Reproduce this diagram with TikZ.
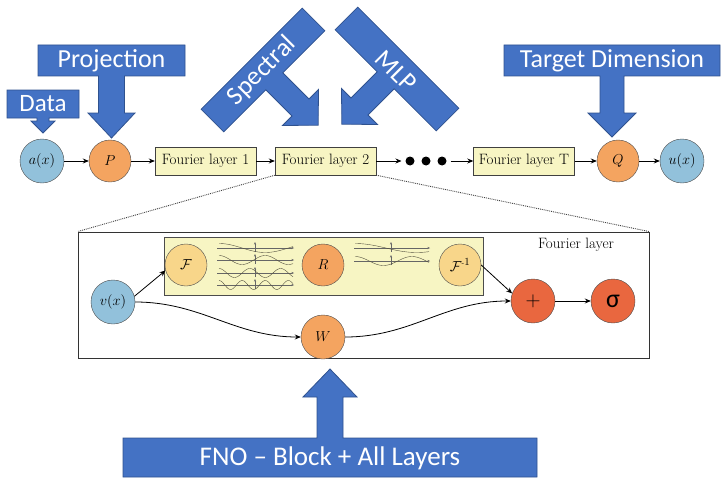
\documentclass[tikz,border=0pt]{standalone}
\usepackage{fontspec}
\newfontfamily\calibri{Carlito}
\usetikzlibrary{arrows.meta,positioning}
\definecolor{callblue}{HTML}{4472C4}
\definecolor{calledge}{HTML}{2F528F}
\definecolor{inblue}{HTML}{92C1DB}
\definecolor{oporange}{HTML}{F4A460}
\definecolor{fftyellow}{HTML}{F8D68A}
\definecolor{sumred}{HTML}{E9673F}
\definecolor{layeryellow}{HTML}{F7F5C3}

\begin{document}
\begin{tikzpicture}[x=1pt,y=-1pt,>={Stealth[length=6pt,width=5pt]},
	fieldnode/.style={circle,draw=black!70,fill=inblue,minimum size=44pt,inner sep=0pt,font=\fontsize{15}{17}\selectfont},
	opnode/.style={circle,draw=black!70,fill=oporange,minimum size=42pt,inner sep=0pt,font=\fontsize{15}{17}\selectfont},
	fftnode/.style={opnode,fill=fftyellow},
	sumnode/.style={opnode,fill=sumred,minimum size=44pt},
	layerbox/.style={draw=black!75,fill=layeryellow,minimum width=101pt,minimum height=28pt,inner sep=0pt,font=\fontsize{15}{17}\selectfont},
	dot/.style={circle,fill=black,minimum size=9pt,inner sep=0pt,outer sep=4pt},
	calltext/.style={text=white,font=\calibri\fontsize{26}{28}\selectfont},
	link/.style={->,line width=0.8pt},
	axisline/.style={-{Stealth[length=2.5pt,width=2pt]},line width=0.3pt,black!60},
	waveline/.style={line width=0.4pt,black!55!yellow!50!black}]
	
	\useasboundingbox (0,0) rectangle (728,495);
	
	% Block arrow with a text bar: centre (#1,#2), bar #3 by #4,
	% stem #5 wide and #6 long, head #7 wide and #8 long, turned by #9
	\newcommand{\infoarrow}[9]{%
		\filldraw[fill=callblue,draw=calledge,line width=0.8pt,shift={(#1,#2)},rotate=#9]
		(-#3/2,-#4/2) -- (#3/2,-#4/2) -- (#3/2,#4/2) -- (#5/2,#4/2)
		-- (#5/2,#4/2+#6) -- (#7/2,#4/2+#6) -- (0,#4/2+#6+#8)
		-- (-#7/2,#4/2+#6) -- (-#5/2,#4/2+#6) -- (-#5/2,#4/2) -- (-#3/2,#4/2) -- cycle;
	}
	
	% Callouts above and below
	\infoarrow{43}{104}{72}{28}{12}{3}{24}{12}{0}
	\infoarrow{111.5}{60.5}{147}{31}{26}{37}{47}{25}{0}
	\infoarrow{612}{60.5}{216}{31}{24}{37}{48}{24}{0}
	\infoarrow{263}{70}{143}{32}{24}{37}{51}{25}{45}
	\infoarrow{397}{69}{143}{32}{24}{37}{51}{25}{-45}
	\infoarrow{330}{457.5}{414}{39}{26}{41}{54}{28}{180}
	
	\node[calltext,font=\calibri\fontsize{25}{27}\selectfont] (datatxt) at (43,104) {Data};
	\node[calltext] (projtxt) at (111.5,60.5) {Projection};
	\node[calltext] (targtxt) at (612,60.5) {Target Dimension};
	\node[calltext,rotate=45] (spectxt) at (262,71) {Spectral};
	\node[calltext,rotate=-45] (mlptxt) at (396,71) {MLP};
	\node[calltext,font=\calibri\fontsize{27}{29}\selectfont] (fnotxt) at (330,458) {FNO – Block + All Layers};
	
	% Main row
	\node[fieldnode] (a) at (42,161) {$a(x)$};
	\node[opnode] (P) at (110,161) {$P$};
	\node[layerbox] (fl1) at (205.5,161) {Fourier layer 1};
	\node[layerbox] (fl2) at (325.5,161) {Fourier layer 2};
	\node[dot] (d1) at (410,161) {};
	\node[dot] (d2) at (426,161) {};
	\node[dot] (d3) at (442,161) {};
	\node[layerbox] (flT) at (524,161) {Fourier layer T};
	\node[opnode] (Q) at (618,161) {$Q$};
	\node[fieldnode] (u) at (682,161) {$u(x)$};
	
	\draw[link] (a) -- (P);
	\draw[link] (P) -- (fl1);
	\draw[link] (fl1) -- (fl2);
	\draw[link] (fl2) -- (d1);
	\draw[link] (d3) -- (flT);
	\draw[link] (flT) -- (Q);
	\draw[link] (Q) -- (u);
	
	% Zoom into one Fourier layer
	\node[draw=black!80,line width=0.8pt,minimum width=571pt,minimum height=126pt] (frame) at (363.5,295) {};
	\node[font=\fontsize{15}{17}\selectfont] (framelabel) at (576,245) {Fourier layer};
	\draw[densely dotted,line width=0.9pt,black!75] (fl2.south west) -- (frame.north west);
	\draw[densely dotted,line width=0.9pt,black!75] (fl2.south east) -- (frame.north east);
	
	\node[draw=black!70,fill=layeryellow,minimum width=319pt,minimum height=58pt] (spec) at (323.5,266) {};
	
	% Fourier modes, left and right of R
	\foreach \yy/\k in {248/0.8,260/1.6,273/2.4,285/3.2} {
		\draw[axisline] (217,\yy) -- (294,\yy);
		\draw[axisline] (255,\yy+4) -- (255,\yy-6);
		\draw[waveline] plot[domain=0:74,samples=60] ({219+\x},{\yy-4.5*cos(\k*\x/74*360)});
	}
	\foreach \yy/\k in {248/0.6,261/1.3} {
		\draw[axisline] (354,\yy) -- (430,\yy);
		\draw[axisline] (391,\yy+4) -- (391,\yy-6);
		\draw[waveline] plot[domain=0:74,samples=60] ({355+\x},{\yy-4.5*cos(\k*\x/74*360)});
	}
	
	\node[fftnode] (F) at (186,265) {$\mathcal{F}$};
	\node[opnode] (R) at (323,265) {$R$};
	\node[fftnode] (Finv) at (460,265) {$\mathcal{F}^{\mbox{\scriptsize -}1}$};
	\node[fieldnode] (v) at (113,302) {$v(x)$};
	\node[opnode,minimum size=44pt] (W) at (323,337) {$W$};
	\node[sumnode,font=\fontsize{22}{22}\selectfont] (plus) at (533,301) {$+$};
	\node[sumnode,font=\calibri\fontsize{26}{26}\selectfont] (sigma) at (613,301) {σ};
	
	\draw[link] (v.15) -- (F.195);
	\draw[link] (v.east) to[out=0,in=180] (W.west);
	\draw[link] (W.east) to[out=0,in=180] (plus.west);
	\draw[link] (Finv.east) -- (plus.160);
	\draw[link] (plus) -- (sigma);
	
\end{tikzpicture}
\end{document}
